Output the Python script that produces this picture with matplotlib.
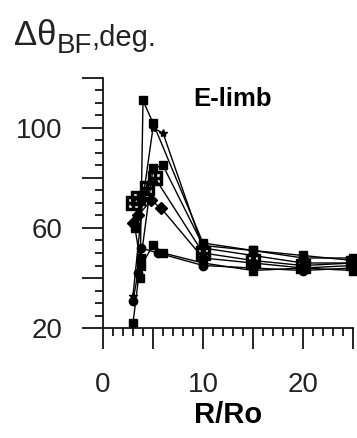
import matplotlib.pyplot as plt
from matplotlib.ticker import MultipleLocator

plt.rcParams['font.family'] = ['Liberation Sans', 'DejaVu Sans']

# distance from the limb centre, R/Ro
x_a = [3.7, 4.0, 5.0, 10, 15, 20, 25]
y_a = [40, 111, 102, 54, 51, 48, 48]

x_b = [3.0, 4.0, 5.0, 6.0, 10, 15, 20, 25]
y_b = [33, 72, 100, 98, 52, 49, 46, 46]

x_c = [3.0, 3.8, 5.0, 6.0, 10, 15, 20, 25]
y_c = [22, 48, 84, 85, 53, 51, 49, 47]

x_d = [3.0, 3.5, 4.4, 5.2, 10, 15, 20, 25]
y_d = [70, 72, 76, 80, 50, 47, 45, 46]

x_e = [3.0, 3.5, 4.8, 5.8, 10, 15, 20, 25]
y_e = [62, 65, 71, 68, 48, 46, 44, 45]

x_f = [3.0, 3.5, 3.8, 5.5, 10, 15, 20, 25]
y_f = [31, 42, 52, 50, 45, 44, 43, 44]

x_g = [3.2, 3.8, 5.0, 6.0, 10, 15, 20, 25]
y_g = [60, 45, 53, 50, 46, 43, 44, 43]

series = [
    (x_a, y_a, 's'),
    (x_b, y_b, '*'),
    (x_c, y_c, 's'),
    (x_d, y_d, r'$\boxplus$'),
    (x_e, y_e, 'D'),
    (x_f, y_f, 'o'),
    (x_g, y_g, 's'),
]

W, H = 357, 438
fig = plt.figure(figsize=(W / 100, H / 100), dpi=100)
ax = fig.add_axes([103 / W, 1 - 328 / H, 250 / W, 250 / H])

for xs, ys, m in series:
    ms = 10 if m.startswith('$') else 6
    ax.plot(xs, ys, color='k', lw=1.0, marker=m, ms=ms, mfc='k', mec='k', clip_on=False)

ax.set_xlim(0, 25)
ax.set_ylim(20, 120)

ax.spines['top'].set_visible(False)
ax.spines['right'].set_visible(False)
ax.spines['left'].set_linewidth(1.2)
ax.spines['bottom'].set_linewidth(1.2)

ax.xaxis.set_minor_locator(MultipleLocator(1))
ax.yaxis.set_minor_locator(MultipleLocator(5))
ax.set_xticks([0, 5, 10, 15, 20, 25])
ax.set_xticklabels(['0', '', '10', '', '20', ''])
ax.set_yticks([20, 40, 60, 80, 100, 120])
ax.set_yticklabels(['20', '', '60', '', '100', ''])

ax.tick_params(which='major', direction='out', length=15, width=1.2,
               labelsize=20, labelcolor='#222222')
ax.tick_params(axis='y', which='major', pad=14)
ax.tick_params(axis='x', which='major', pad=17)
ax.tick_params(which='minor', direction='out', length=6, width=1.2)

ax.set_xlabel('R/Ro', fontsize=21, fontweight='bold', labelpad=2)

fig.text(193 / W, 1 - 106 / H, 'E-limb', fontsize=18.5, fontweight='bold', va='baseline')

# axis title built from pieces: delta theta, subscript, units
fig.canvas.draw()
r = fig.canvas.get_renderer()
t1 = fig.text(14 / W, 1 - 45 / H, '\u0394\u03b8', fontsize=25, va='baseline', color='#222222')
x1 = t1.get_window_extent(r).x1
t2 = fig.text(x1 / W, 1 - 53 / H, 'BF', fontsize=20, va='baseline', color='#222222')
x2 = t2.get_window_extent(r).x1
fig.text(x2 / W, 1 - 46 / H, ',deg.', fontsize=21, va='baseline', color='#222222')

fig.savefig('out.png', dpi=100)
